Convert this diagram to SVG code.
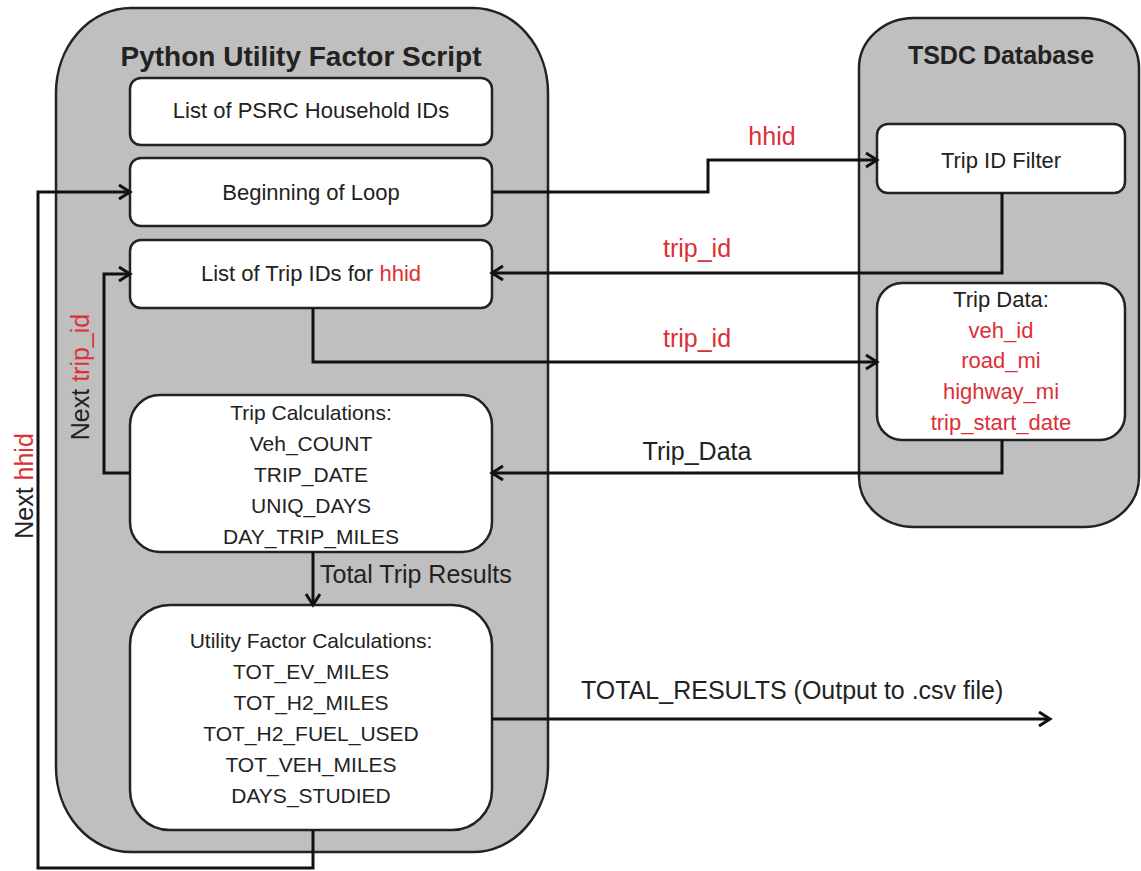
<svg xmlns="http://www.w3.org/2000/svg" width="1141" height="871" viewBox="0 0 1141 871">
<style>
.cont{fill:#bfbfbf;stroke:#222;stroke-width:2.5}
.box{fill:#fff;stroke:#222;stroke-width:2.5}
.t{font-family:"Liberation Sans",Arial,sans-serif;fill:#222;text-anchor:middle}
.title{font-weight:bold}
.s22{font-size:22px}
.s21{font-size:21px}
.lbl{font-family:"Liberation Sans",Arial,sans-serif;font-size:25px;fill:#222}
.red{fill:#dc2f37}
.conn path{fill:none;stroke:#111;stroke-width:3;marker-end:url(#arr)}
</style>
<defs>
<marker id="arr" markerUnits="userSpaceOnUse" markerWidth="16" markerHeight="18" refX="12" refY="8" orient="auto">
<path d="M1,1 L12,8 L1,15" fill="none" stroke="#111" stroke-width="3"/>
</marker>
</defs>
<rect width="1141" height="871" fill="#fff"/>
<g id="python-script">
<rect class="cont" x="56" y="8" width="492" height="844" rx="75" ry="85"/>
<text class="t title" x="301" y="66" font-size="28">Python Utility Factor Script</text>
</g>
<g id="tsdc-database">
<rect class="cont" x="859" y="18" width="280" height="509" rx="55" ry="50"/>
<text class="t title" x="1001" y="64" font-size="25">TSDC Database</text>
</g>
<g id="household-ids">
<rect class="box" x="130" y="78" width="362" height="67" rx="11"/>
<text class="t s22" x="311" y="118">List of PSRC Household IDs</text>
</g>
<g id="beginning-loop">
<rect class="box" x="130" y="158" width="362" height="68" rx="11"/>
<text class="t s22" x="311" y="200">Beginning of Loop</text>
</g>
<g id="trip-ids">
<rect class="box" x="130" y="240" width="362" height="68" rx="11"/>
<text class="t s22" x="311" y="281">List of Trip IDs for <tspan class="red">hhid</tspan></text>
</g>
<g id="trip-calc">
<rect class="box" x="130" y="395" width="362" height="157" rx="30"/>
<text class="t s21" x="311" y="420">Trip Calculations:</text>
<text class="t s21" x="311" y="451">Veh_COUNT</text>
<text class="t s21" x="311" y="482">TRIP_DATE</text>
<text class="t s21" x="311" y="513">UNIQ_DAYS</text>
<text class="t s21" x="311" y="544">DAY_TRIP_MILES</text>
</g>
<g id="uf-calc">
<rect class="box" x="130" y="605" width="362" height="225" rx="40"/>
<text class="t s21" x="311" y="648">Utility Factor Calculations:</text>
<text class="t s21" x="311" y="679">TOT_EV_MILES</text>
<text class="t s21" x="311" y="710">TOT_H2_MILES</text>
<text class="t s21" x="311" y="741">TOT_H2_FUEL_USED</text>
<text class="t s21" x="311" y="772">TOT_VEH_MILES</text>
<text class="t s21" x="311" y="803">DAYS_STUDIED</text>
</g>
<g id="trip-id-filter">
<rect class="box" x="877" y="124" width="248" height="69" rx="11"/>
<text class="t s22" x="1001" y="168">Trip ID Filter</text>
</g>
<g id="trip-data">
<rect class="box" x="877" y="283" width="248" height="157" rx="25"/>
<text class="t s22" x="1001" y="307">Trip Data:</text>
<text class="t s22 red" x="1001" y="338">veh_id</text>
<text class="t s22 red" x="1001" y="368">road_mi</text>
<text class="t s22 red" x="1001" y="399">highway_mi</text>
<text class="t s22 red" x="1001" y="430">trip_start_date</text>
</g>
<g id="connectors" class="conn">
<path d="M492,192 H708 V160 H877"/>
<path d="M1002,193 V273 H492"/>
<path d="M313,308 V362 H877"/>
<path d="M1002,440 V473 H492"/>
<path d="M313,552 V605"/>
<path d="M130,473 H104 V274 H130"/>
<path d="M313,830 V868 H38 V192 H130"/>
<path d="M492,719 H1050"/>
</g>
<g id="labels">
<text class="lbl red" x="772" y="145" text-anchor="middle">hhid</text>
<text class="lbl red" x="697" y="257" text-anchor="middle">trip_id</text>
<text class="lbl red" x="697" y="347" text-anchor="middle">trip_id</text>
<text class="lbl" x="697" y="460" text-anchor="middle">Trip_Data</text>
<text class="lbl" x="320" y="583">Total Trip Results</text>
<text class="lbl" x="581" y="699">TOTAL_RESULTS (Output to .csv file)</text>
<text class="lbl" text-anchor="middle" transform="translate(89,377) rotate(-90)">Next <tspan class="red">trip_id</tspan></text>
<text class="lbl" text-anchor="middle" transform="translate(33,486) rotate(-90)">Next <tspan class="red">hhid</tspan></text>
</g>
</svg>
